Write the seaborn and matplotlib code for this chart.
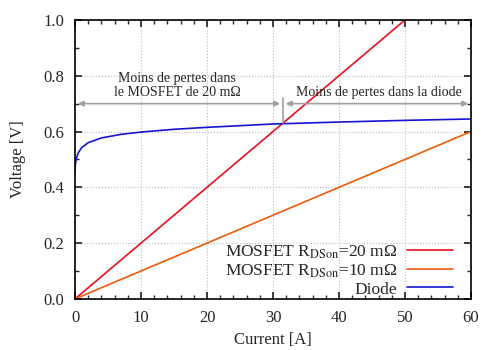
import numpy as np
import pandas as pd
import seaborn as sns
import matplotlib.pyplot as plt

# MOSFET lines (end points), diode curve
mos_current = [0, 60]
mos20_volt = [0, 1.2]
mos10_volt = [0, 0.6]
diode_current = [0.005, 0.02, 0.05, 0.1, 0.2, 0.5, 1, 2, 4, 7, 10, 15, 20, 30, 40, 50, 60]
diode_volt = [0.455, 0.47, 0.48, 0.49, 0.503, 0.524, 0.542, 0.56, 0.577, 0.59, 0.598, 0.608, 0.615, 0.627, 0.634, 0.64, 0.645]
cross_current = 31.5

sns.set_theme(style="ticks")
plt.rcParams['font.family'] = ['Liberation Serif', 'DejaVu Serif']
plt.rcParams['mathtext.fontset'] = 'stix'

df = pd.concat([
    pd.DataFrame({"I": mos_current, "V": mos20_volt, "s": "MOSFET R$_{\\mathrm{DSon}}$=20 mΩ"}),
    pd.DataFrame({"I": mos_current, "V": mos10_volt, "s": "MOSFET R$_{\\mathrm{DSon}}$=10 mΩ"}),
    pd.DataFrame({"I": diode_current, "V": diode_volt, "s": "Diode"}),
])
labels = df["s"].unique().tolist()

fig, ax = plt.subplots(figsize=(5, 3.5), dpi=100)
fig.subplots_adjust(left=0.15, right=0.942, top=0.943, bottom=0.146)
sns.lineplot(data=df, x="I", y="V", hue="s", hue_order=labels,
             palette=["#e8101e", "#f05a0a", "#1414d2"], lw=1.2, ax=ax, sort=False)

ax.set_xlim(0, 60)
ax.set_ylim(0, 1.0)
ax.set_xticks(np.arange(0, 61, 10))
ax.set_xticks(np.arange(0, 61, 2), minor=True)
ax.set_yticks(np.arange(0, 1.01, 0.2))
ax.set_yticks(np.arange(0, 1.01, 0.1), minor=True)
ax.set_yticklabels([f"{v:.1f}" for v in np.arange(0, 1.01, 0.2)])
ax.tick_params(which="both", direction="in", top=True, right=True, labelsize=12)
ax.tick_params(which="major", length=5)
ax.tick_params(which="minor", length=3)
ax.tick_params(axis="x", which="major", pad=8)
ax.tick_params(axis="y", which="major", pad=7.5)
ax.grid(True, which="major", ls=":", color="#bbbbbb", lw=0.8)
for s in ax.spines.values():
    s.set_linewidth(1.2)
    s.set_color("black")
ax.set_xlabel("Current [A]", fontsize=12, labelpad=4)
ax.set_ylabel("Voltage [V]", fontsize=12, labelpad=13)

arrow = dict(arrowstyle="<|-|>", color="#a0a0a0", lw=1.2, mutation_scale=8)
ax.annotate("", xy=(0, 0.7), xytext=(cross_current, 0.7), arrowprops=arrow)
ax.annotate("", xy=(cross_current, 0.7), xytext=(60, 0.7), arrowprops=arrow)
ax.plot([cross_current, cross_current], [0.63, 0.72], color="#a0a0a0", lw=1.2)
ax.text(15.5, 0.715, "Moins de pertes dans\nle MOSFET de 20 mΩ", ha="center", va="bottom",
        fontsize=10, linespacing=1.1)
ax.text(46, 0.715, "Moins de pertes dans la diode", ha="center", va="bottom", fontsize=10)

leg = ax.legend(loc="lower right", bbox_to_anchor=(0.971, -0.02), frameon=False,
                markerfirst=False, fontsize=12.5, handlelength=2.6, labelspacing=0.1,
                borderaxespad=0, handletextpad=0.6)
for t in leg.get_texts():
    t.set_ha("right")
leg._legend_box.align = "right"

fig.savefig("out.png", dpi=100)
